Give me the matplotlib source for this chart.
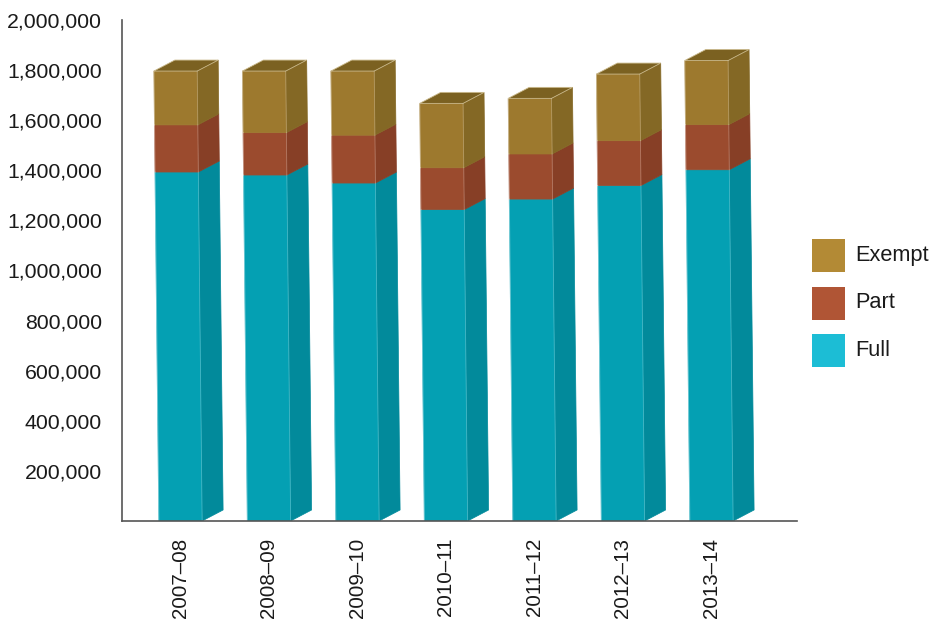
import matplotlib
matplotlib.use("Agg")
import matplotlib.pyplot as plt
from matplotlib.patches import Polygon, Rectangle
from matplotlib.ticker import FuncFormatter

plt.rcParams['font.family'] = ['Liberation Sans', 'DejaVu Sans']

years = ["2007–08", "2008–09", "2009–10", "2010–11", "2011–12", "2012–13", "2013–14"]
full = [1393000, 1381000, 1349000, 1243000, 1285000, 1339000, 1402000]
part = [188000, 169000, 191000, 167000, 180000, 179000, 180000]
exempt = [215000, 246000, 256000, 257000, 222000, 266000, 256000]
yticks = [200000, 400000, 600000, 800000, 1000000, 1200000, 1400000, 1600000, 1800000, 2000000]
legend_names = ["Exempt", "Part", "Full"]

# front / side / top / legend shades per series
shades = {
    "Full":   ("#04a0b3", "#028a9b", "#02788a", "#1cbdd5"),
    "Part":   ("#9b4b2e", "#873f26", "#74361f", "#b05535"),
    "Exempt": ("#9d792e", "#846825", "#7b6121", "#b38a35"),
}

W = 0.49          # bar width (category units)
DX = 0.237        # depth offset along x
DY = 43900        # depth offset along y (value units)
SHEAR = -0.031e-6  # slight lean of the bars with height


def xs(xc, v):
    return xc + SHEAR * v


def draw_block(ax, xc, v0, v1, front, side, top, cap):
    l0, r0 = xs(xc, v0) - W / 2, xs(xc, v0) + W / 2
    l1, r1 = xs(xc, v1) - W / 2, xs(xc, v1) + W / 2
    ax.add_patch(Polygon([(r0, v0), (r0 + DX, v0 + DY), (r1 + DX, v1 + DY), (r1, v1)],
                         closed=True, facecolor=side, edgecolor=side, lw=0.5))
    ax.add_patch(Polygon([(l0, v0), (r0, v0), (r1, v1), (l1, v1)],
                         closed=True, facecolor=front, edgecolor=front, lw=0.5))
    # faint highlight along the left and right edges of the front face
    ax.plot([l0, l1], [v0, v1], color="white", alpha=0.35, lw=0.8)
    ax.plot([r0, r1], [v0, v1], color="white", alpha=0.25, lw=0.6)
    if cap:
        ax.add_patch(Polygon([(l1, v1), (r1, v1), (r1 + DX, v1 + DY), (l1 + DX, v1 + DY)],
                             closed=True, facecolor=top, edgecolor="#c9b88a", lw=0.6))


fig = plt.figure(figsize=(9.31, 6.22), dpi=100)
ax = fig.add_axes([0.131, 0.1624, 0.725, 0.8055])

for i in range(len(years)):
    b1 = full[i]
    b2 = b1 + part[i]
    b3 = b2 + exempt[i]
    draw_block(ax, i, 0, b1, *shades["Full"][:3], cap=False)
    draw_block(ax, i, b1, b2, *shades["Part"][:3], cap=False)
    draw_block(ax, i, b2, b3, *shades["Exempt"][:3], cap=True)

ax.set_xlim(-0.661, 6.966)
ax.set_ylim(0, 2000000)
ax.set_yticks(yticks)
ax.yaxis.set_major_formatter(FuncFormatter(lambda v, p: f"{int(v):,}"))
ax.set_xticks(range(len(years)))
ax.set_xticklabels(years, rotation=90)
ax.tick_params(axis="y", length=0, pad=14.5, labelsize=15.3, labelcolor="#1a1a1a")
ax.tick_params(axis="x", length=0, pad=12, labelsize=14.8, labelcolor="#1a1a1a")

for s in ["top", "right"]:
    ax.spines[s].set_visible(False)
for s in ["left", "bottom"]:
    ax.spines[s].set_color("#555555")
    ax.spines[s].set_linewidth(1.2)

# legend: square swatches with labels to the right
W_FIG, H_FIG = 931.0, 622.0
for k, name in enumerate(legend_names):
    top_px = 239 + k * 47.5
    fig.add_artist(Rectangle((812 / W_FIG, 1 - (top_px + 33) / H_FIG), 33 / W_FIG, 33 / H_FIG,
                             transform=fig.transFigure, facecolor=shades[name][3],
                             edgecolor="none"))
    fig.text(855 / W_FIG, 1 - (top_px + 16.5) / H_FIG, name, fontsize=15.7,
             color="#1a1a1a", ha="left", va="center")

fig.savefig("out.png", dpi=100)
